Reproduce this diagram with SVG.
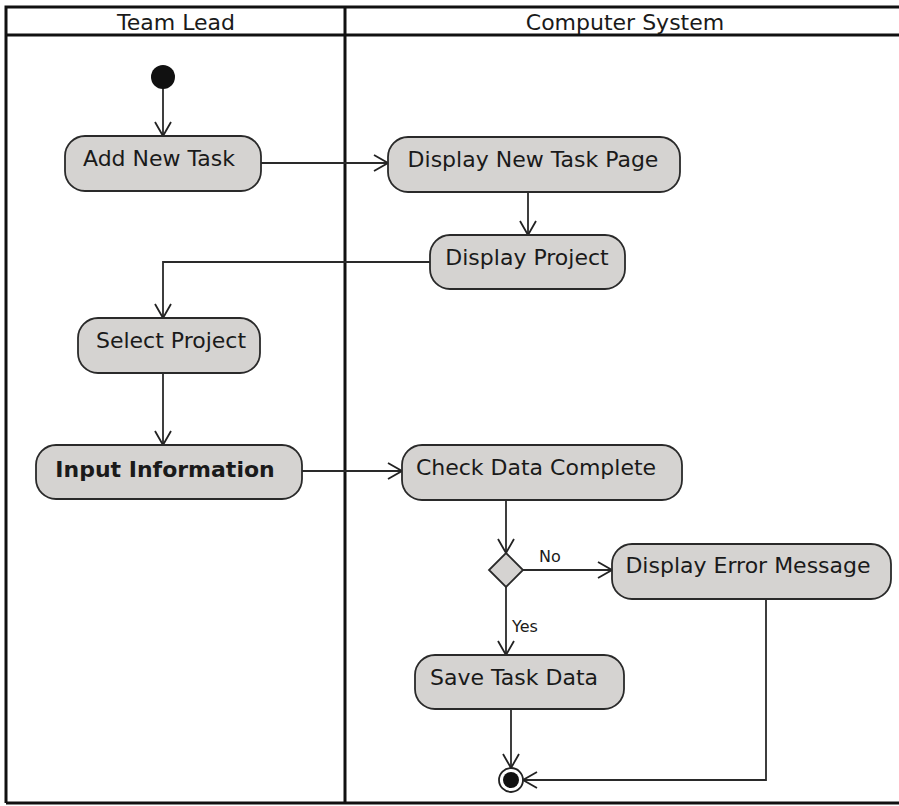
<svg xmlns="http://www.w3.org/2000/svg" width="899" height="806" viewBox="0 0 899 806">
  <defs>
    <marker id="open" viewBox="0 0 16 18" refX="15" refY="9" markerWidth="16" markerHeight="18" markerUnits="userSpaceOnUse" orient="auto">
      <path d="M1,1 L15,9 L1,17" fill="none" stroke="#222" stroke-width="1.8"/>
    </marker>
  </defs>
  <style>
    .frame { fill: none; stroke: #111; stroke-width: 3; }
    .act { fill: #d5d3d1; stroke: #2a2a2a; stroke-width: 1.8; }
    .lbl { font-family: "DejaVu Sans", Verdana, sans-serif; font-size: 22px; fill: #1a1a1a; text-anchor: middle; }
    .hdr { font-family: "DejaVu Sans", Verdana, sans-serif; font-size: 22px; fill: #1a1a1a; text-anchor: middle; }
    .guard { font-family: "DejaVu Sans", Verdana, sans-serif; font-size: 16px; fill: #1a1a1a; }
    .flow { fill: none; stroke: #2a2a2a; stroke-width: 1.8; }
  </style>
  <rect width="899" height="806" fill="#ffffff"/>

  <!-- swimlane frame -->
  <g id="lanes">
    <path class="frame" d="M6,803 L6,7 L905,7 M6,35 L905,35 M6,803 L905,803 M345,7 L345,803"/>
    <text class="hdr" x="176" y="30">Team Lead</text>
    <text class="hdr" x="625" y="30">Computer System</text>
  </g>

  <!-- connectors -->
  <g id="connectors">
    <path class="flow" d="M163,88 L163,136" marker-end="url(#open)"/>
    <path class="flow" d="M261,163 L388,163" marker-end="url(#open)"/>
    <path class="flow" d="M528,192 L528,235" marker-end="url(#open)"/>
    <path class="flow" d="M430,262 L163,262 L163,318" marker-end="url(#open)"/>
    <path class="flow" d="M163,373 L163,445" marker-end="url(#open)"/>
    <path class="flow" d="M302,471 L402,471" marker-end="url(#open)"/>
    <path class="flow" d="M506,500 L506,553" marker-end="url(#open)"/>
    <path class="flow" d="M523,570 L612,570" marker-end="url(#open)"/>
    <path class="flow" d="M506,587 L506,655" marker-end="url(#open)"/>
    <path class="flow" d="M511,709 L511,768" marker-end="url(#open)"/>
    <path class="flow" d="M766,599 L766,780 L523,780" marker-end="url(#open)"/>
    <text class="guard" x="539" y="562">No</text>
    <text class="guard" x="512" y="632">Yes</text>
  </g>

  <!-- nodes -->
  <g id="start">
    <circle cx="163" cy="77" r="12" fill="#111"/>
  </g>
  <g id="add-new-task">
    <rect class="act" x="65" y="136" width="196" height="55" rx="20"/>
    <text class="lbl" x="159" y="166">Add New Task</text>
  </g>
  <g id="display-new-task-page">
    <rect class="act" x="388" y="137" width="292" height="55" rx="20"/>
    <text class="lbl" x="533" y="167">Display New Task Page</text>
  </g>
  <g id="display-project">
    <rect class="act" x="430" y="235" width="195" height="54" rx="20"/>
    <text class="lbl" x="527" y="265">Display Project</text>
  </g>
  <g id="select-project">
    <rect class="act" x="78" y="318" width="182" height="55" rx="20"/>
    <text class="lbl" x="171" y="348">Select Project</text>
  </g>
  <g id="input-information">
    <rect class="act" x="36" y="445" width="266" height="54" rx="20"/>
    <text class="lbl" x="165" y="477" font-weight="bold">Input Information</text>
  </g>
  <g id="check-data-complete">
    <rect class="act" x="402" y="445" width="280" height="55" rx="20"/>
    <text class="lbl" x="536" y="475">Check Data Complete</text>
  </g>
  <g id="decision">
    <path class="act" d="M506,553 L523,570 L506,587 L489,570 Z"/>
  </g>
  <g id="display-error-message">
    <rect class="act" x="612" y="544" width="279" height="55" rx="20"/>
    <text class="lbl" x="748" y="573">Display Error Message</text>
  </g>
  <g id="save-task-data">
    <rect class="act" x="415" y="655" width="209" height="54" rx="20"/>
    <text class="lbl" x="514" y="685">Save Task Data</text>
  </g>
  <g id="end">
    <circle cx="511" cy="780" r="12" fill="#fff" stroke="#222" stroke-width="1.8"/>
    <circle cx="511" cy="780" r="8" fill="#111"/>
  </g>
</svg>
